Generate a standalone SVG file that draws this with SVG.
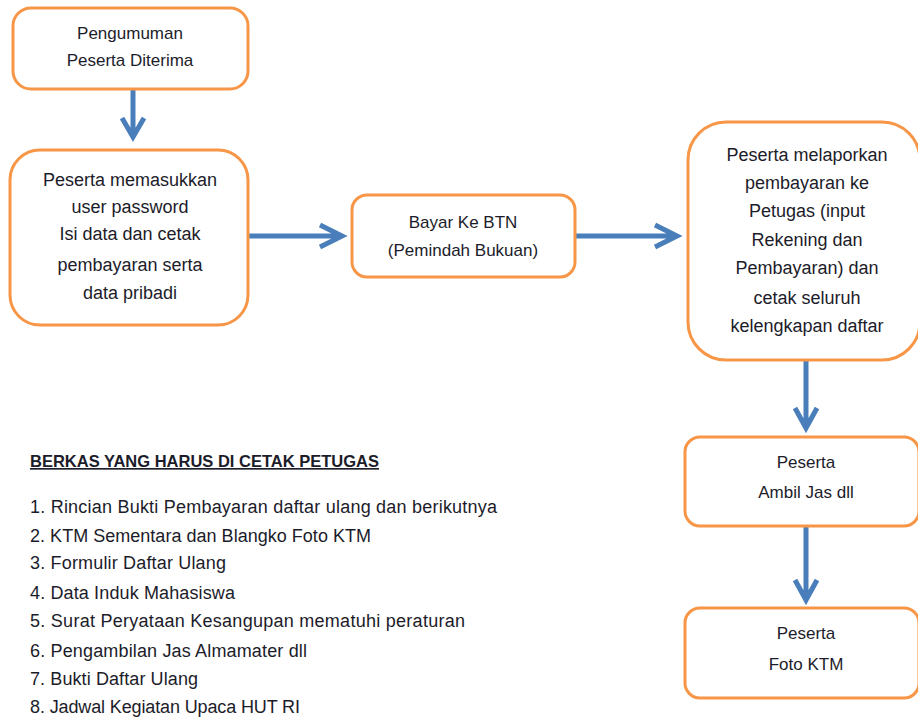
<svg xmlns="http://www.w3.org/2000/svg" width="918" height="718" viewBox="0 0 918 718">
<style>
.box{fill:#fff;stroke:#F79646;stroke-width:3}
.t{font-family:"Liberation Sans",Arial,sans-serif;font-size:17px;fill:#1c1c2a;text-anchor:middle}
.b{font-size:18px}
.l{font-family:"Liberation Sans",Arial,sans-serif;font-size:18px;fill:#1c1c2a}
.h{font-family:"Liberation Sans",Arial,sans-serif;font-size:16.5px;font-weight:bold;fill:#1c1c2a;text-decoration:underline}
.c{fill:none;stroke:#4A7EBB;stroke-width:5;stroke-linecap:butt;stroke-linejoin:miter}
</style>
<rect width="918" height="718" fill="#fff"/>
<g id="connectors">
<path class="c" d="M133 89 V136 M122 118 L133 137 L144 118"/>
<path class="c" d="M249 236 H340 M320 225 L342 236 L320 247"/>
<path class="c" d="M576 236 H674 M655 225 L677 236 L655 247"/>
<path class="c" d="M806 361 V426 M795 408 L806 428 L817 408"/>
<path class="c" d="M806 527 V598 M795 580 L806 600 L817 580"/>
</g>
<g id="n1">
<rect class="box" x="13" y="8" width="235" height="81" rx="18"/>
<text class="t" x="130" y="39">Pengumuman</text>
<text class="t" x="130" y="66" font-size="17.5">Peserta Diterima</text>
</g>
<g id="n2">
<rect class="box" x="10" y="150" width="238" height="175" rx="30"/>
<text class="t b" x="130" y="186">Peserta memasukkan</text>
<text class="t b" x="130" y="213">user password</text>
<text class="t b" x="130" y="240">Isi data dan cetak</text>
<text class="t b" x="130" y="271">pembayaran serta</text>
<text class="t b" x="130" y="299">data pribadi</text>
</g>
<g id="n3">
<rect class="box" x="352" y="195" width="223" height="82" rx="15"/>
<text class="t" x="463" y="228">Bayar Ke BTN</text>
<text class="t" x="463" y="256">(Pemindah Bukuan)</text>
</g>
<g id="n4">
<rect class="box" x="688" y="122" width="232" height="238" rx="38"/>
<text class="t b" x="807" y="161">Peserta melaporkan</text>
<text class="t b" x="807" y="189">pembayaran ke</text>
<text class="t b" x="807" y="217">Petugas (input</text>
<text class="t b" x="807" y="246">Rekening dan</text>
<text class="t b" x="807" y="274">Pembayaran) dan</text>
<text class="t b" x="807" y="304">cetak seluruh</text>
<text class="t b" x="807" y="332">kelengkapan daftar</text>
</g>
<g id="n5">
<rect class="box" x="685" y="437" width="234" height="89" rx="15"/>
<text class="t" x="806" y="468">Peserta</text>
<text class="t" x="806" y="498">Ambil Jas dll</text>
</g>
<g id="n6">
<rect class="box" x="685" y="608" width="234" height="90" rx="15"/>
<text class="t" x="806" y="639">Peserta</text>
<text class="t" x="806" y="670">Foto KTM</text>
</g>
<g id="list">
<text class="h" x="30" y="467">BERKAS YANG HARUS DI CETAK PETUGAS</text>
<text class="l" x="30" y="513" textLength="467" lengthAdjust="spacing">1. Rincian Bukti Pembayaran daftar ulang dan berikutnya</text>
<text class="l" x="30" y="542" textLength="341" lengthAdjust="spacing">2. KTM Sementara dan Blangko Foto KTM</text>
<text class="l" x="30" y="569" textLength="196" lengthAdjust="spacing">3. Formulir Daftar Ulang</text>
<text class="l" x="30" y="599" textLength="205" lengthAdjust="spacing">4. Data Induk Mahasiswa</text>
<text class="l" x="30" y="627" textLength="435" lengthAdjust="spacing">5. Surat Peryataan Kesangupan mematuhi peraturan</text>
<text class="l" x="30" y="657" textLength="277" lengthAdjust="spacing">6. Pengambilan Jas Almamater dll</text>
<text class="l" x="30" y="685" textLength="168" lengthAdjust="spacing">7. Bukti Daftar Ulang</text>
<text class="l" x="30" y="713" textLength="270" lengthAdjust="spacing">8. Jadwal Kegiatan Upaca HUT RI</text>
</g>
</svg>
